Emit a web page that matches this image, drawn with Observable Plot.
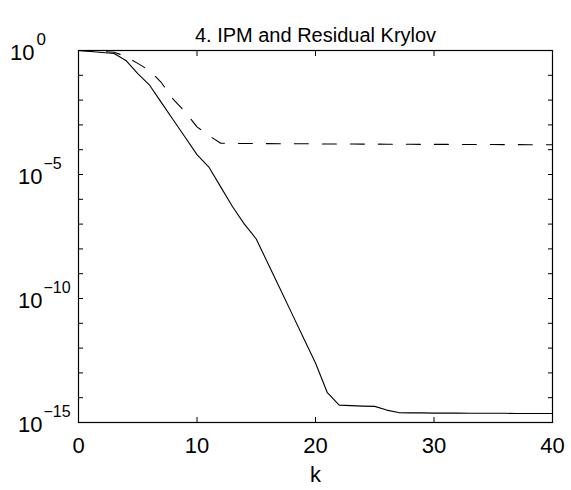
<!DOCTYPE html>
<html><head><meta charset="utf-8">
<script src="https://cdn.jsdelivr.net/npm/d3@7"></script>
<script src="https://cdn.jsdelivr.net/npm/@observablehq/plot@0.6"></script>
<style>body{margin:0;background:#fff;}</style>
</head><body><div id="chart"></div>
<script>
const title = "4. IPM and Residual Krylov";
const xLabel = "k";
const kValues = d3.range(0, 41);
// log10 of the values
const solidLog = [0, -0.04, -0.08, -0.12, -0.4, -0.93, -1.4, -2.1, -2.8, -3.5, -4.2, -4.7, -5.5, -6.3, -7.0, -7.6, -8.6, -9.6, -10.6, -11.6, -12.6, -13.8, -14.3, -14.32, -14.34, -14.35, -14.5, -14.6, -14.61, -14.61, -14.62, -14.62, -14.62, -14.63, -14.63, -14.63, -14.63, -14.64, -14.64, -14.64, -14.64];
const dashedLog = [0, -0.02, -0.04, -0.07, -0.24, -0.52, -0.81, -1.3, -1.97, -2.48, -3.08, -3.43, -3.74, -3.745, -3.75, -3.75, -3.755, -3.76, -3.76, -3.76, -3.765, -3.77, -3.77, -3.77, -3.775, -3.775, -3.78, -3.78, -3.78, -3.785, -3.785, -3.785, -3.79, -3.79, -3.79, -3.79, -3.795, -3.795, -3.8, -3.8, -3.8];
const xTicks = [0, 10, 20, 30, 40];
const yMajor = [0, -5, -10, -15];
const yMinor = d3.range(0, -16, -1);

const solid = kValues.map((k, i) => ({k, v: Math.pow(10, solidLog[i])}));
const dashed = kValues.map((k, i) => ({k, v: Math.pow(10, dashedLog[i])}));
const font = "'Liberation Sans', Arial, Helvetica, sans-serif";
const tickFont = 22;

const chart = Plot.plot({
  width: 571, height: 490,
  marginLeft: 78, marginRight: 19, marginTop: 50, marginBottom: 68,
  style: {fontFamily: font, background: "white", color: "black", overflow: "visible"},
  x: {domain: [0, 40], axis: null},
  y: {type: "log", domain: [1e-15, 1], axis: null},
  marks: [
    Plot.line(dashed, {x: "k", y: "v", stroke: "black", strokeWidth: 1.1, strokeDasharray: "14,14"}),
    Plot.line(solid, {x: "k", y: "v", stroke: "black", strokeWidth: 1.1}),
    Plot.frame({stroke: "black", strokeWidth: 1.2}),
    Plot.axisX(xTicks, {anchor: "bottom", tickSize: -5, tickFormat: () => "", label: null}),
    Plot.axisX(xTicks, {anchor: "top", tickSize: -5, tickFormat: () => "", label: null}),
    Plot.axisY(yMinor.map(e => Math.pow(10, e)), {anchor: "left", tickSize: -5, tickFormat: () => "", label: null}),
    Plot.axisY(yMinor.map(e => Math.pow(10, e)), {anchor: "right", tickSize: -5, tickFormat: () => "", label: null}),
    Plot.text(xTicks, {x: d => d, frameAnchor: "bottom", dy: 23, fontSize: tickFont, text: d => String(d), lineAnchor: "middle"}),
    Plot.text(yMajor.filter(e => e !== 0), {y: e => Math.pow(10, e), frameAnchor: "left", dx: -36, dy: 2, textAnchor: "end", lineAnchor: "middle", fontSize: tickFont, text: () => "10"}),
    Plot.text(yMajor.filter(e => e !== 0), {y: e => Math.pow(10, e), frameAnchor: "left", dx: -35, dy: -11, textAnchor: "start", lineAnchor: "middle", fontSize: 16, text: e => "\u2212" + (-e)}),
    Plot.text(yMajor.filter(e => e === 0), {y: e => Math.pow(10, e), frameAnchor: "left", dx: -44, dy: 2, textAnchor: "end", lineAnchor: "middle", fontSize: tickFont, text: () => "10"}),
    Plot.text(yMajor.filter(e => e === 0), {y: e => Math.pow(10, e), frameAnchor: "left", dx: -42, dy: -11, textAnchor: "start", lineAnchor: "middle", fontSize: 17, text: e => String(e)}),
    Plot.text([title], {frameAnchor: "top", dy: -15, fontSize: 20, text: d => d, lineAnchor: "middle"}),
    Plot.text([xLabel], {frameAnchor: "bottom", dy: 52, fontSize: tickFont, text: d => d, lineAnchor: "middle"})
  ]
});
document.getElementById("chart").appendChild(chart);
</script>
</body></html>
